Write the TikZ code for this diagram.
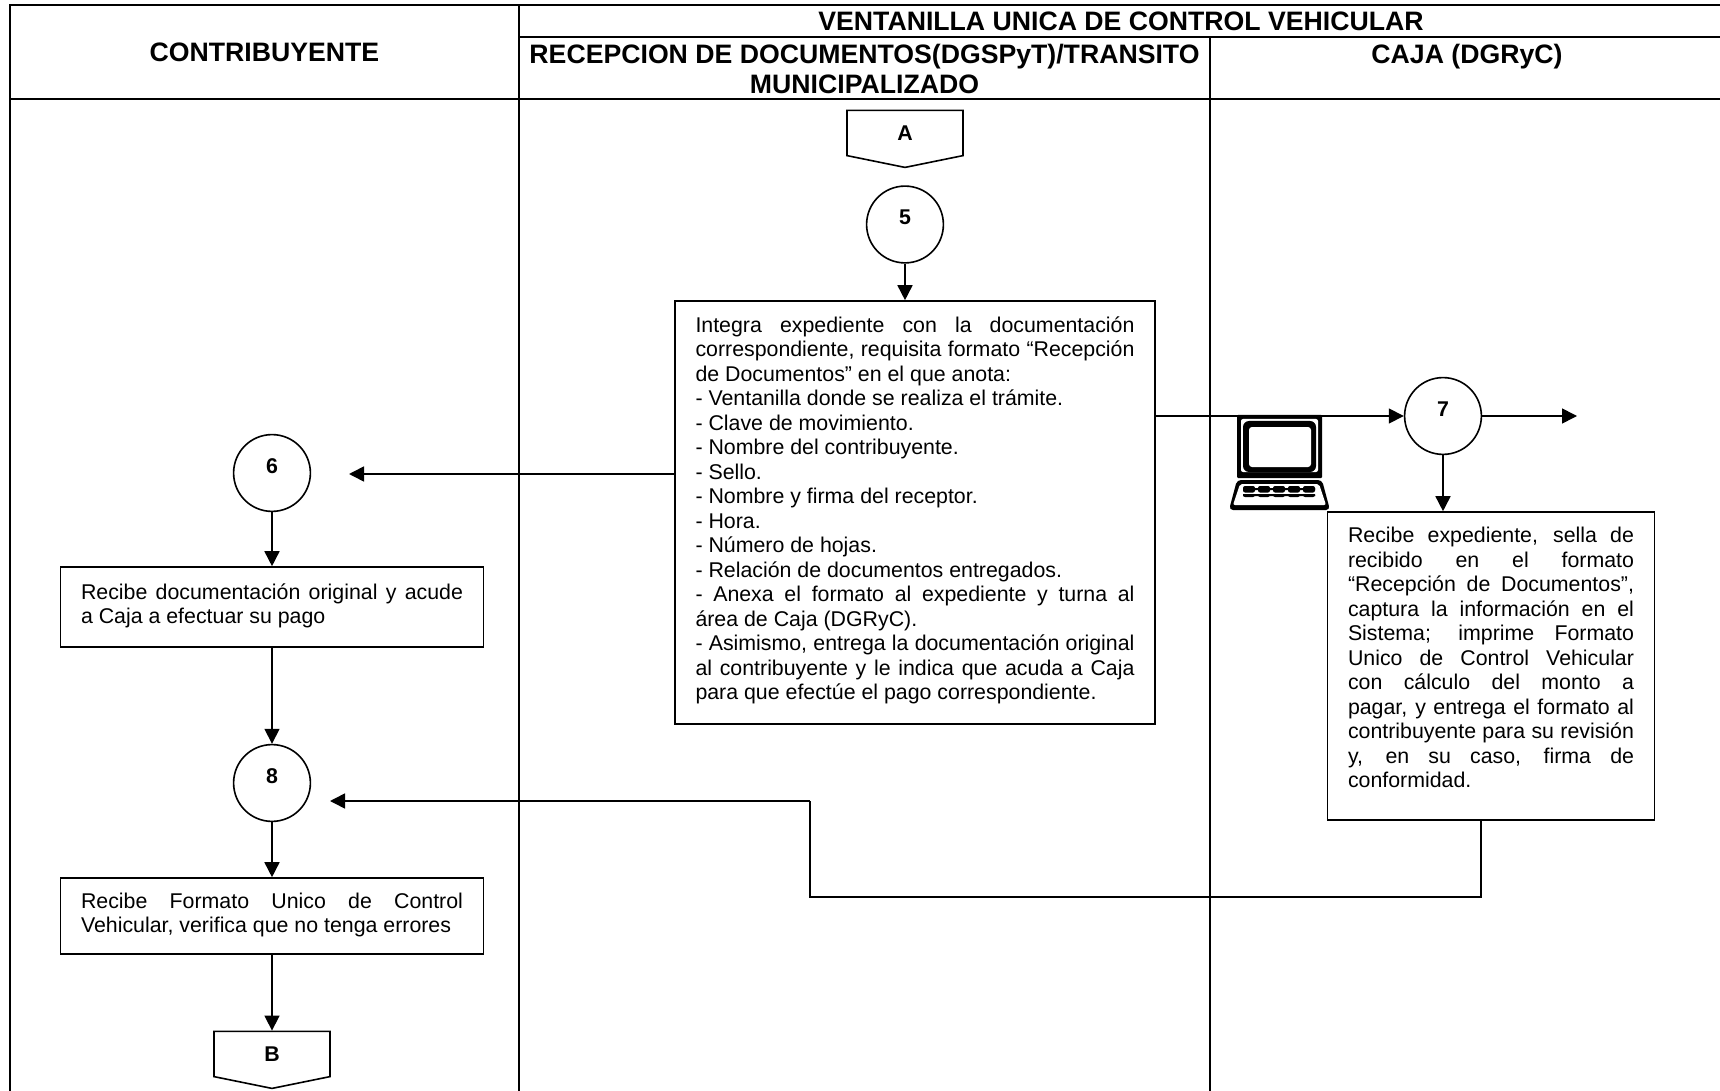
\documentclass[tikz,border=0pt]{standalone}
\usepackage{fontspec}
\setmainfont{Liberation Sans}
\usetikzlibrary{arrows.meta,shapes.symbols}

\tikzset{
	tabla/.style={line width=1pt},
	titulo/.style={font=\fontsize{13.33}{15.2}\selectfont\bfseries,align=center,inner sep=0pt},
	paso/.style={draw,circle,line width=0.8pt,minimum size=38.4pt,inner sep=0pt,font=\fontsize{10.67}{12}\selectfont\bfseries},
	conector/.style={draw,line width=0.8pt,signal,signal to=south,signal pointer angle=157,minimum width=58pt,minimum height=23.4pt,inner sep=0pt,font=\fontsize{10.67}{12}\selectfont\bfseries},
	caja/.style={draw,line width=0.8pt,inner xsep=10.25pt,inner ysep=0pt,align=justify,font=\fontsize{10.67}{12.25}\selectfont,
		execute at begin node={\hyphenpenalty=10000\exhyphenpenalty=10000\tolerance=9999}},
	flecha/.style={line width=0.8pt,-{Triangle[length=7.5pt,width=7.5pt]}},
	linea/.style={line width=0.8pt}
}

\begin{document}
\begin{tikzpicture}[x=0.5pt,y=-0.5pt]
	\useasboundingbox (0,0) rectangle (1720,1091);
	% tabla
	\coordinate (tl) at (10,5);
	\coordinate (tr) at (1720,5);
	\coordinate (hl) at (10,99);
	\coordinate (hr) at (1720,99);
	\coordinate (bl) at (10,1091);
	\coordinate (m1t) at (519,5);
	\coordinate (m1b) at (519,1091);
	\coordinate (m2t) at (1210,37);
	\coordinate (m2b) at (1210,1091);
	\coordinate (sl) at (519,37);
	\coordinate (sr) at (1720,37);
	\draw[tabla] (bl) -- (tl) -- (tr);
	\draw[tabla] (hl) -- (hr);
	\draw[tabla] (m1t) -- (m1b);
	\draw[tabla] (m2t) -- (m2b);
	\draw[tabla] (sl) -- (sr);
	\node[titulo] (tcontrib) at (264.5,52.5) {CONTRIBUYENTE};
	\node[titulo] (tventana) at (1121,21) {VENTANILLA UNICA DE CONTROL VEHICULAR};
	\node[titulo] (trecep) at (864.5,69) {RECEPCION DE DOCUMENTOS(DGSPyT)/TRANSITO\\MUNICIPALIZADO};
	\node[titulo] (tcaja) at (1467,57) {CAJA (DGRyC)};
	% columna de recepcion
	\node[conector] (A) at (905,133) {A};
	\node[paso] (cinco) at (905,224.5) {\raisebox{7pt}{5}};
	\node[caja,text width=219.5pt,minimum height=211.5pt] (recep) at (915,512.5) {%
		Integra expediente con la documentación correspondiente, requisita formato “Recepción de Documentos” en el que anota:\par
		- Ventanilla donde se realiza el trámite.\par
		- Clave de movimiento.\par
		- Nombre del contribuyente.\par
		- Sello.\par
		- Nombre y firma del receptor.\par
		- Hora.\par
		- Número de hojas.\par
		- Relación de documentos entregados.\par
		- Anexa el formato al expediente y turna al\linebreak área de Caja (DGRyC).\par
		- Asimismo, entrega la documentación original al contribuyente y le indica que acuda a Caja para que efectúe el pago correspondiente.\par\kern2.2pt};
	% columna de caja
	\node[paso] (siete) at (1443,416) {\raisebox{7pt}{7}};
	\node[caja,text width=143pt,minimum height=154pt] (cajanodo) at (1491,666) {%
		Recibe expediente, sella de\linebreak recibido en el formato “Recepción de Documentos”, captura la información en el Sistema; imprime Formato Unico de Control Vehicular con cálculo del monto a pagar, y entrega el formato al\linebreak contribuyente para su revisión\linebreak y, en su caso, firma de\linebreak conformidad.\par\kern8.5pt};
	\coordinate (salida) at (1577,416);
	% columna del contribuyente
	\node[paso] (seis) at (272,473) {\raisebox{7pt}{6}};
	\node[caja,text width=191pt,minimum height=40pt] (recibe) at (272,607) {%
		Recibe documentación original y acude a Caja a efectuar su pago\par\kern1pt};
	\node[paso] (ocho) at (272,783) {\raisebox{7pt}{8}};
	\node[caja,text width=191pt,minimum height=38pt] (verifica) at (272,916) {%
		Recibe Formato Unico de Control Vehicular, verifica que no tenga errores\par\kern1pt};
	\node[conector] (B) at (272,1054) {B};
	\coordinate (entrega) at (349,474);
	\coordinate (regreso) at (330,801);
	\coordinate (c1) at (1481,897);
	\coordinate (c2) at (810,897);
	\coordinate (c3) at (810,801);
	% flechas
	\draw[flecha] (cinco) -- (cinco |- recep.north);
	\draw[flecha] (recep.east |- siete) -- (siete);
	\draw[flecha] (siete) -- (salida);
	\draw[flecha] (siete) -- (siete |- cajanodo.north);
	\draw[flecha] (recep.west |- entrega) -- (entrega);
	\draw[flecha] (seis) -- (seis |- recibe.north);
	\draw[flecha] (recibe) -- (ocho);
	\draw[flecha] (ocho) -- (ocho |- verifica.north);
	\draw[flecha] (verifica) -- (verifica |- B.north);
	\draw[linea] (cajanodo.south -| c1) -- (c1) -- (c2) -- (c3);
	\draw[flecha] (c3) -- (regreso);
	% computadora
	\fill[rounded corners=0.5pt] (1237,415) rectangle (1322,478);
	\fill[white,rounded corners=1pt] (1241,419) rectangle (1318,472);
	\fill[rounded corners=3pt] (1243,421) rectangle (1316,472);
	\fill[white,rounded corners=1.5pt] (1249,427) rectangle (1311,467);
	\fill[rounded corners=2pt] (1237,480) -- (1322,480) -- (1330,510) -- (1229,510) -- cycle;
	\fill[white,rounded corners=1pt] (1240,484) -- (1319,484) -- (1326,505) -- (1233,505) -- cycle;
	\foreach \x in {1243,1258,1273,1288,1303}
		\fill[rounded corners=1pt] (\x,486) rectangle (\x+12,492.5) (\x,494) rectangle (\x+12,497);
	\fill (1243,488) rectangle (1315,490) (1243,494) rectangle (1315,496);
\end{tikzpicture}
\end{document}
